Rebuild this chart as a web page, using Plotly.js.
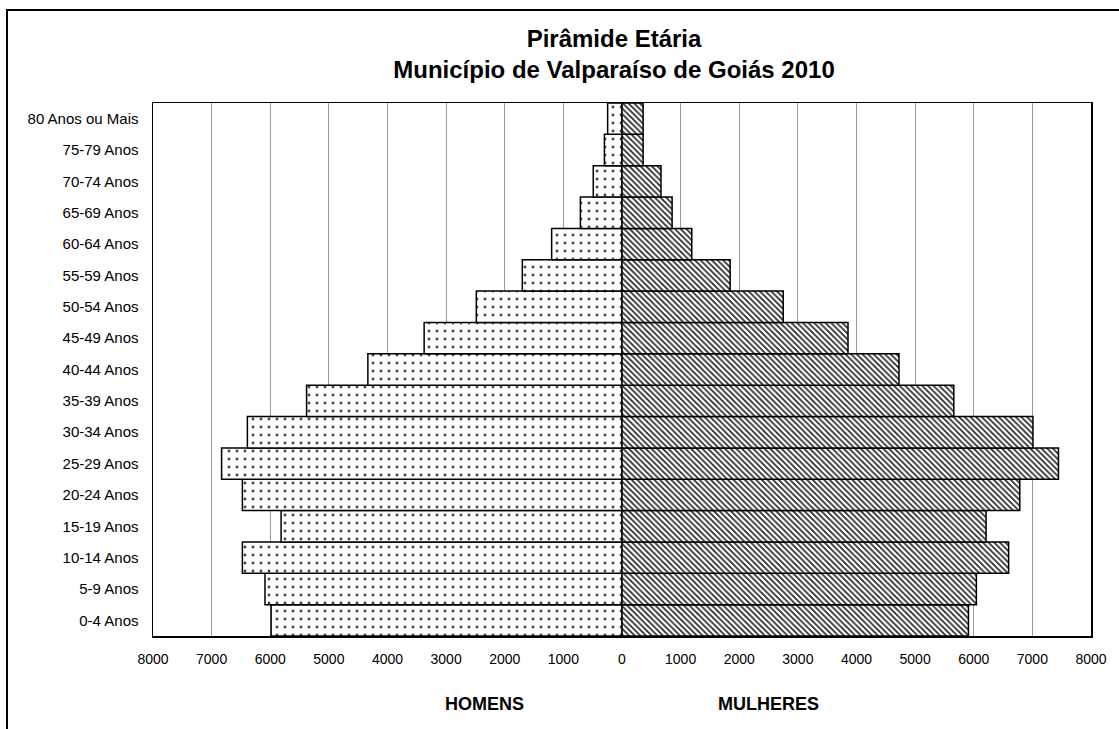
<!DOCTYPE html>
<html>
<head>
<meta charset="utf-8">
<script src="https://cdn.plot.ly/plotly-3.0.1.min.js"></script>
<style>
  html, body { margin: 0; padding: 0; background: #fff; }
  #chart { width: 1119px; height: 729px; }
</style>
</head>
<body>
<div id="chart"></div>
<script>
// Age groups, bottom to top
const ageGroups = ["0-4 Anos", "5-9 Anos", "10-14 Anos", "15-19 Anos", "20-24 Anos", "25-29 Anos",
  "30-34 Anos", "35-39 Anos", "40-44 Anos", "45-49 Anos", "50-54 Anos", "55-59 Anos",
  "60-64 Anos", "65-69 Anos", "70-74 Anos", "75-79 Anos", "80 Anos ou Mais"];

// Homens (male) population
const homens = [5985, 6090, 6475, 5815, 6475, 6830, 6390, 5380, 4335, 3375, 2485, 1700, 1200, 710, 490, 300, 245];

// Mulheres (female) population
const mulheres = [5910, 6045, 6595, 6210, 6785, 7445, 7010, 5660, 4725, 3855, 2750, 1845, 1190, 855, 665, 360, 360];

// Axis ticks
const tickValues = [-8000, -7000, -6000, -5000, -4000, -3000, -2000, -1000, 0, 1000, 2000, 3000, 4000, 5000, 6000, 7000, 8000];
const tickLabels = ["8000", "7000", "6000", "5000", "4000", "3000", "2000", "1000", "0", "1000", "2000", "3000", "4000", "5000", "6000", "7000", "8000"];

const FONT = "Liberation Sans, Arial, sans-serif";

const traces = [
  {
    type: "bar",
    orientation: "h",
    name: "HOMENS",
    y: ageGroups,
    x: homens.map(v => -v),
    customdata: homens,
    hovertemplate: "%{y}: %{customdata}<extra>Homens</extra>",
    marker: {
      color: "#ffffff",
      line: { color: "#000000", width: 1.5 },
      pattern: { shape: ".", size: 8, solidity: 0.1, fgcolor: "#444444", bgcolor: "#ffffff" }
    }
  },
  {
    type: "bar",
    orientation: "h",
    name: "MULHERES",
    y: ageGroups,
    x: mulheres,
    hovertemplate: "%{y}: %{x}<extra>Mulheres</extra>",
    marker: {
      color: "#ffffff",
      line: { color: "#000000", width: 1.5 },
      pattern: { shape: "\\", size: 4, solidity: 0.4, fgcolor: "#222222", bgcolor: "#ffffff" }
    }
  }
];

const layout = {
  width: 1119,
  height: 729,
  margin: { l: 153, r: 28, t: 103, b: 93 },
  paper_bgcolor: "#ffffff",
  plot_bgcolor: "#ffffff",
  showlegend: false,
  barmode: "overlay",
  bargap: 0,
  font: { family: FONT, color: "#000000", size: 14 },
  title: {
    text: "<b>Pirâmide Etária</b><br><b>Município de Valparaíso de Goiás 2010</b>",
    font: { family: FONT, size: 24, color: "#000000" },
    x: 614 / 1119,
    xref: "container",
    xanchor: "center",
    y: 1 - 47 / 729,
    yref: "container",
    yanchor: "top"
  },
  xaxis: {
    range: [-8000, 8000],
    tickvals: tickValues,
    ticktext: tickLabels,
    showgrid: true,
    gridcolor: "#9a9a9a",
    gridwidth: 1,
    zeroline: false,
    showline: true,
    linecolor: "#000000",
    linewidth: 1.5,
    mirror: true,
    ticks: "",
    ticklen: 0,
    ticklabelstandoff: 10,
    tickfont: { family: FONT, size: 14, color: "#000000" },
    fixedrange: true
  },
  yaxis: {
    type: "category",
    showgrid: false,
    zeroline: false,
    showline: true,
    linecolor: "#000000",
    linewidth: 1.5,
    mirror: true,
    ticks: "",
    ticklabelstandoff: 10,
    tickfont: { family: FONT, size: 15, color: "#000000" },
    fixedrange: true
  },
  annotations: [
    {
      text: "<b>HOMENS</b>", xref: "paper", yref: "paper",
      x: (484 - 153) / 938, y: (636 - 704) / 533,
      xanchor: "center", yanchor: "middle", showarrow: false,
      font: { family: FONT, size: 18, color: "#000000" }
    },
    {
      text: "<b>MULHERES</b>", xref: "paper", yref: "paper",
      x: (768 - 153) / 938, y: (636 - 704) / 533,
      xanchor: "center", yanchor: "middle", showarrow: false,
      font: { family: FONT, size: 18, color: "#000000" }
    }
  ],
  shapes: [
    {
      type: "rect", xref: "paper", yref: "paper",
      x0: (7 - 153) / 938, x1: 1.2,
      y0: -0.4, y1: (636 - 10) / 533,
      line: { color: "#000000", width: 2 },
      fillcolor: "rgba(0,0,0,0)",
      layer: "above"
    }
  ]
};

Plotly.newPlot("chart", traces, layout, { displayModeBar: false, staticPlot: true });
</script>
</body>
</html>
